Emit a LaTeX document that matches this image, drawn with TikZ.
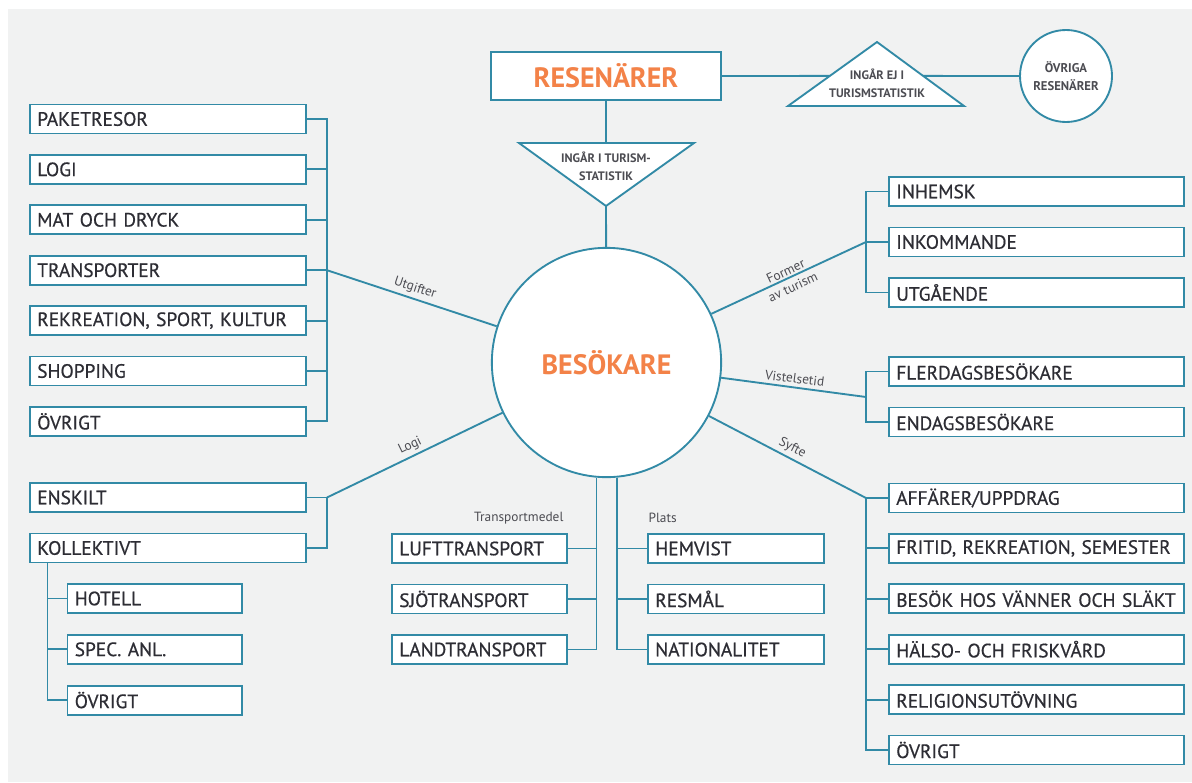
\documentclass[tikz,border=0pt]{standalone}
\usepackage{fontspec}
\setmainfont{PT Sans}
\newfontfamily\boxfont[FakeBold=0.6]{PT Sans}
\usetikzlibrary{calc}
\definecolor{tealc}{RGB}{50,138,166}
\definecolor{orangec}{RGB}{243,130,72}
\definecolor{bgc}{RGB}{241,242,242}
\definecolor{txtc}{RGB}{45,45,52}

\tikzset{
    conn/.style={draw=tealc, line width=1.4pt},
    catbox/.style={draw=tealc, fill=white, line width=1.4pt, anchor=west,
        minimum height=21.75pt, inner xsep=5.5pt, inner ysep=0pt,
        text width=#1, align=left, text=txtc,
        font=\boxfont\fontsize{14.5}{17}\selectfont},
    linelbl/.style={font=\fontsize{10}{13}\selectfont, text=txtc!85, inner sep=2.5pt},
    triglbl/.style={font=\bfseries\fontsize{9.2}{13.5}\selectfont, text=txtc!85, align=center}
}

\begin{document}
\begin{tikzpicture}[
        x=0.75pt, y=-0.75pt
    ]
    \useasboundingbox (0,0) rectangle (1192,782);
    \fill [bgc] (8,9) rectangle (1192,782);

    % centre and top
    \node [circle, draw=tealc, fill=white, line width=1.4pt, minimum size=172pt, inner sep=0pt,
        font=\bfseries\fontsize{21}{24}\selectfont, text=orangec] (besok) at (606.5,362.5) {BESÖKARE};
    \node [draw=tealc, fill=white, line width=1.4pt, minimum width=172pt, minimum height=36.5pt,
        font=\bfseries\fontsize{21}{24}\selectfont, text=orangec] (resen) at (606,76) {RESENÄRER};
    \node [circle, draw=tealc, fill=white, line width=1.4pt, minimum size=69pt, inner sep=0pt,
        triglbl, font=\bfseries\fontsize{9.5}{13.5}\selectfont] (ovr) at (1066,76) {ÖVRIGA\\RESENÄRER};

    \coordinate (intop) at (606,143);
    \coordinate (inapex) at (606,206);
    \draw [conn] (resen) -- (intop);
    \draw [conn] (inapex) -- (besok);
    \draw [conn, fill=white] (519,143) -- (694,143) -- (inapex) -- cycle;
    \node [triglbl] (inlbl) at (606,166) {INGÅR I TURISM-\\STATISTIK};

    \coordinate (exapex) at (877,42);
    \coordinate (exbl) at (788,106);
    \coordinate (exbr) at (964,106);
    \draw [conn] (resen) -- ($(exbl)!0.47!(exapex)$);
    \draw [conn] ($(exbr)!0.47!(exapex)$) -- (ovr);
    \draw [conn, fill=white] (exapex) -- (exbl) -- (exbr) -- cycle;
    \node [triglbl] (exlbl) at (877,83) {INGÅR EJ I\\TURISMSTATISTIK};

    % left side
    \coordinate (utgbus) at (327,270.2);
    \foreach \t [count=\i from 0] in {PAKETRESOR, LOGI, MAT OCH DRYCK, TRANSPORTER,
            {REKREATION, SPORT, KULTUR}, SHOPPING, ÖVRIGT} {
        \node [catbox=196pt] (utg\i) at (29,119+50.4*\i) {\mbox{\t}};
        \draw [conn] (utg\i.east) -| (utgbus);
    }
    \draw [conn] (utgbus) -- node[linelbl, sloped, above]{Utgifter} (besok);

    \coordinate (logibus) at (327,497.5);
    \foreach \t [count=\i from 0] in {ENSKILT, KOLLEKTIVT} {
        \node [catbox=196pt] (logi\i) at (29,497.5+50.5*\i) {\mbox{\t}};
        \draw [conn] (logi\i.east) -| (logibus);
    }
    \draw [conn] (logibus) -- node[linelbl, sloped, above]{Logi} (besok);

    \coordinate (kolltap) at (47.5,563);
    \foreach \t [count=\i from 0] in {HOTELL, SPEC. ANL., ÖVRIGT} {
        \node [catbox=120pt] (sub\i) at (66.5,598.5+50.8*\i) {\mbox{\t}};
        \draw [conn] (sub\i.west) -| (kolltap);
    }

    % bottom
    \foreach \t [count=\i from 0] in {LUFTTRANSPORT, SJÖTRANSPORT, LANDTRANSPORT} {
        \node [catbox=120pt] (tra\i) at (391,548.5+50.5*\i) {\mbox{\t}};
        \draw [conn] (tra\i.east) -| (besok.-95);
    }
    \node [linelbl, anchor=east] (tralbl) at (567,518) {Transportmedel};

    \foreach \t [count=\i from 0] in {HEMVIST, RESMÅL, NATIONALITET} {
        \node [catbox=121pt] (pla\i) at (647,548.5+50.5*\i) {\mbox{\t}};
        \draw [conn] (pla\i.west) -| (besok.-85);
    }
    \node [linelbl, anchor=west] (plalbl) at (645,518) {Plats};

    % right side
    \coordinate (formbus) at (866,242);
    \foreach \t [count=\i from 0] in {INHEMSK, INKOMMANDE, UTGÅENDE} {
        \node [catbox=210pt] (form\i) at (888,191.5+50.5*\i) {\mbox{\t}};
        \draw [conn] (form\i.west) -| (formbus);
    }
    \draw [conn] (besok) -- node[linelbl, sloped, align=center, yshift=-1pt]{Former\\av turism} (formbus);

    \coordinate (vistbus) at (866,397);
    \foreach \t [count=\i from 0] in {FLERDAGSBESÖKARE, ENDAGSBESÖKARE} {
        \node [catbox=210pt] (vist\i) at (888,371.5+50.5*\i) {\mbox{\t}};
        \draw [conn] (vist\i.west) -| (vistbus);
    }
    \draw [conn] (besok) -- node[linelbl, sloped, above]{Vistelsetid} (vistbus);

    \coordinate (syftbus) at (866,498);
    \foreach \t [count=\i from 0] in {AFFÄRER/UPPDRAG, {FRITID, REKREATION, SEMESTER},
            BESÖK HOS VÄNNER OCH SLÄKT, HÄLSO- OCH FRISKVÅRD, RELIGIONSUTÖVNING, ÖVRIGT} {
        \node [catbox=210pt] (syft\i) at (888,498+50.4*\i) {\mbox{\t}};
        \draw [conn] (syft\i.west) -| (syftbus);
    }
    \draw [conn] (besok) -- node[linelbl, sloped, above]{Syfte} (syftbus);
\end{tikzpicture}
\end{document}
